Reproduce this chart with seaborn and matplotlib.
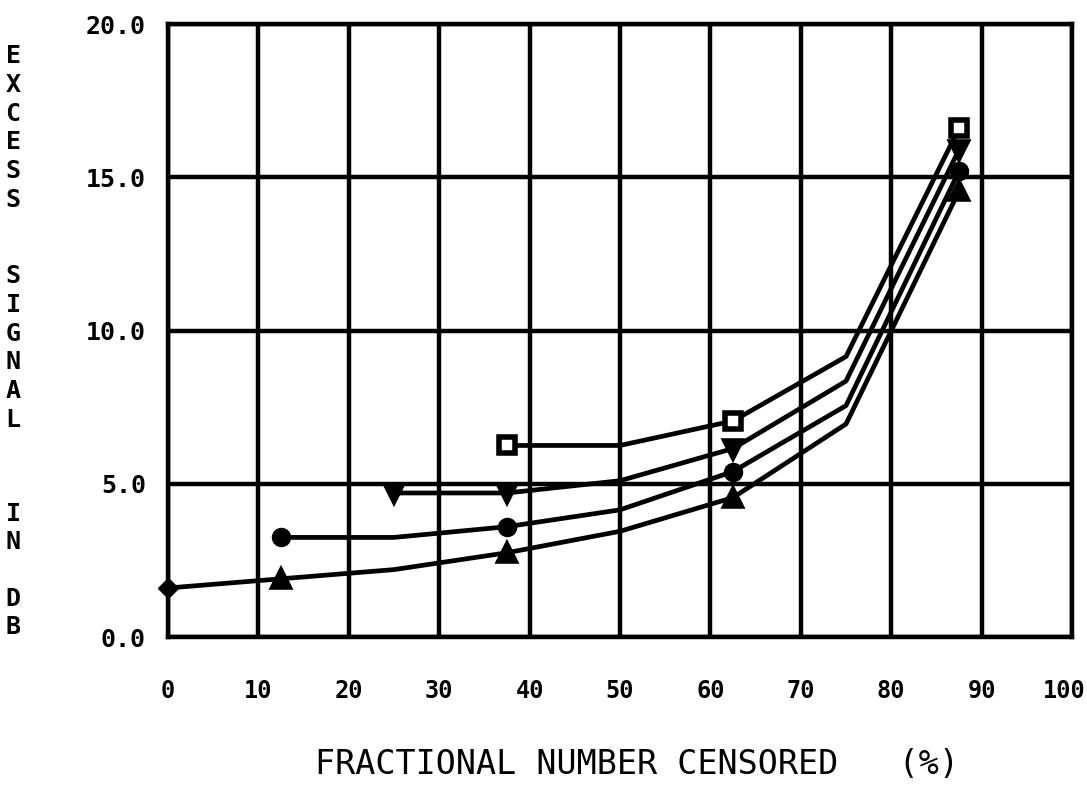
import numpy as np
import pandas as pd
import matplotlib
matplotlib.use('Agg')
import matplotlib.pyplot as plt
import matplotlib.transforms as mtransforms
import seaborn as sns

# curve points (percent censored, excess signal dB)
sq_x = [37.5, 50, 62.5, 75, 87.5]
sq_y = [6.25, 6.25, 7.05, 9.15, 16.6]
dn_x = [25, 37.5, 50, 62.5, 75, 87.5]
dn_y = [4.7, 4.7, 5.1, 6.15, 8.35, 15.9]
ci_x = [12.5, 25, 37.5, 50, 62.5, 75, 87.5]
ci_y = [3.25, 3.25, 3.6, 4.15, 5.4, 7.55, 15.2]
up_x = [0, 12.5, 25, 37.5, 50, 62.5, 75, 87.5]
up_y = [1.6, 1.9, 2.2, 2.75, 3.45, 4.55, 6.95, 14.55]

# points that carry a symbol
sq_mk = [37.5, 62.5, 87.5]
dn_mk = [25, 37.5, 62.5, 87.5]
ci_mk = [12.5, 37.5, 62.5, 87.5]
up_mk = [12.5, 37.5, 62.5, 87.5]
dia_mk = [0]

x_ticks = [0, 10, 20, 30, 40, 50, 60, 70, 80, 90, 100]
y_ticks = [0, 5, 10, 15, 20]
y_ticklabels = ['0.0', '5.0', '10.0', '15.0', '20.0']

sns.set_style('white')
plt.rcParams['font.family'] = ['DejaVu Sans Mono', 'DejaVu Sans']
plt.rcParams['text.color'] = 'black'

fig = plt.figure(figsize=(10.87, 7.95), dpi=100)
ax = fig.add_axes([0.1546, 0.1987, 0.8316, 0.7711])

series = [
    ('sq', sq_x, sq_y, sq_mk, 's', 'white', 11),
    ('dn', dn_x, dn_y, dn_mk, 'v', 'black', 11),
    ('ci', ci_x, ci_y, ci_mk, 'o', 'black', 10),
    ('up', up_x, up_y, up_mk, '^', 'black', 11),
]

for name, xs, ys, mk, m, fc, ms in series:
    df = pd.DataFrame({'x': xs, 'y': ys})
    sns.lineplot(data=df, x='x', y='y', ax=ax, color='black', linewidth=3.4,
                 estimator=None, sort=False, clip_on=False, zorder=3)
    pts = df[df['x'].isin(mk)]
    ax.plot(pts['x'], pts['y'], linestyle='none', marker=m, markersize=ms,
            markerfacecolor=fc, markeredgecolor='black', markeredgewidth=4,
            clip_on=False, zorder=4)

first = pd.DataFrame({'x': up_x, 'y': up_y})
first = first[first['x'].isin(dia_mk)]
ax.plot(first['x'], first['y'], linestyle='none', marker='D', markersize=10,
        color='black', clip_on=False, zorder=4)

ax.set_xlim(0, 100)
ax.set_ylim(0, 20)
ax.set_xticks(x_ticks)
ax.set_yticks(y_ticks)
ax.set_xticklabels([str(v) for v in x_ticks], fontsize=17, fontweight='bold',
                   color='black')
ax.set_yticklabels(y_ticklabels, fontsize=18, fontweight='bold', color='black')
ax.tick_params(axis='both', length=0)
ax.tick_params(axis='x', pad=30)
ax.tick_params(axis='y', pad=16)
# last x label sits a little left of its gridline in the original
lab = ax.get_xticklabels()[-1]
lab.set_transform(lab.get_transform() +
                  mtransforms.ScaledTranslation(-0.08, 0, fig.dpi_scale_trans))
ax.grid(True, color='black', linewidth=3.2)
for s in ax.spines.values():
    s.set_color('black')
    s.set_linewidth(3.2)
ax.set_xlabel('')
ax.set_ylabel('')

fig.text(0.586, 0.038, 'FRACTIONAL NUMBER CENSORED   (%)', ha='center',
         va='center', fontsize=24, color='black')

# stacked axis title
for word, yc in [('EXCESS', 128), ('SIGNAL', 348), ('IN', 528), ('DB', 613)]:
    fig.text(0.012, 1 - yc / 795, '\n'.join(word), ha='center', va='center',
             fontsize=18, fontweight='bold', linespacing=1.25, color='black')

fig.savefig('out.png', dpi=100)
